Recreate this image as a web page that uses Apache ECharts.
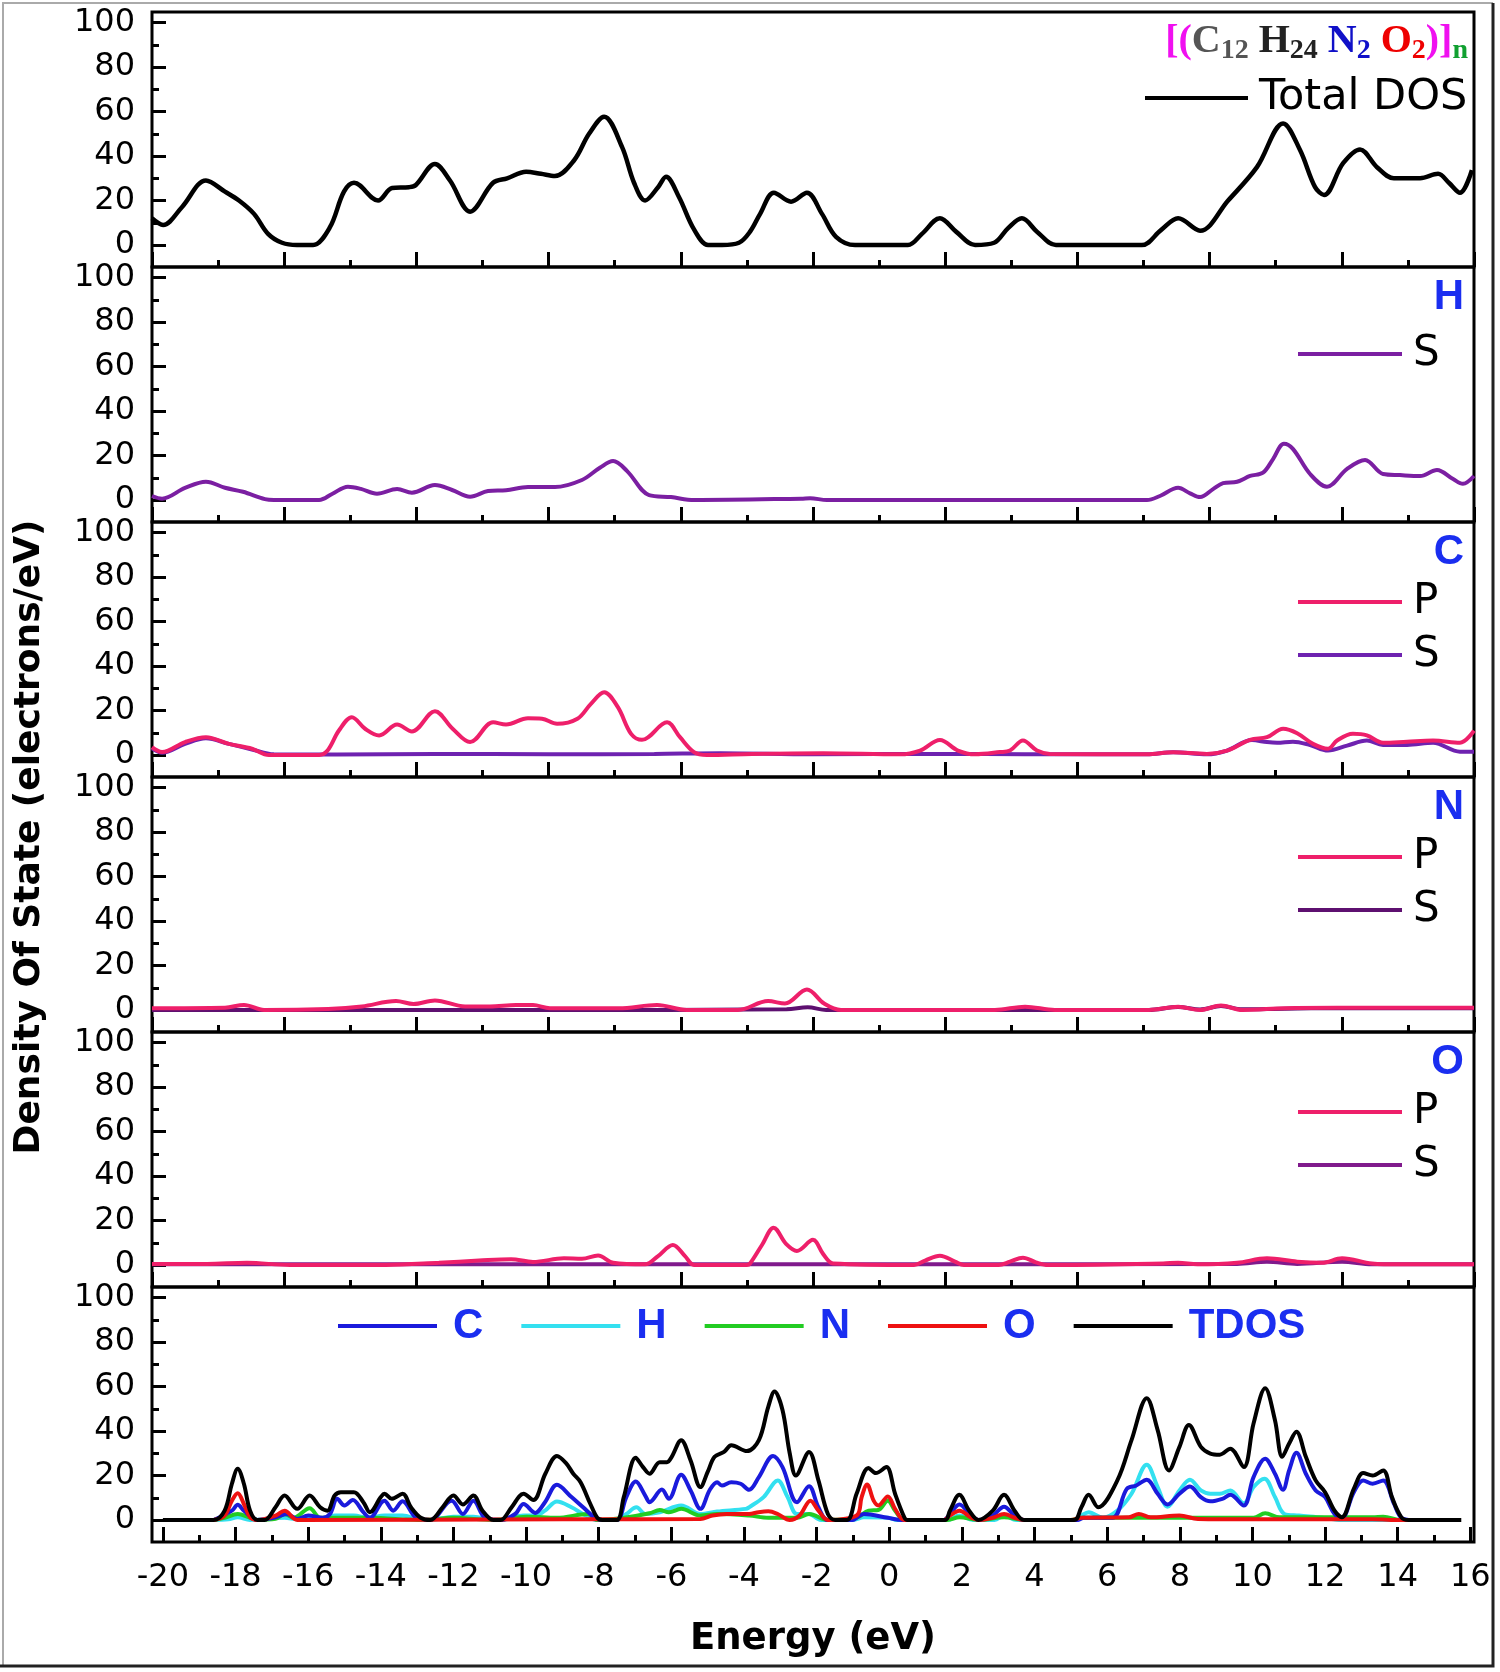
<!DOCTYPE html>
<html><head><meta charset="utf-8">
<script src="https://cdn.jsdelivr.net/npm/echarts@6/dist/echarts.min.js"></script>
<style>html,body{margin:0;padding:0;background:#fff}#c{width:1500px;height:1672px}</style>
</head><body><div id="c"></div>
<script>
// ---------- tick labels ----------
const yMajorTicks = [0, 20, 40, 60, 80, 100];
const yMinorTicks = [10, 30, 50, 70, 90];
const energyMajorTicks = [-20, -18, -16, -14, -12, -10, -8, -6, -4, -2, 0, 2, 4, 6, 8, 10, 12, 14, 16];
const energyMinorTicks = [-19, -17, -15, -13, -11, -9, -7, -5, -3, -1, 1, 3, 5, 7, 9, 11, 13, 15];

// ---------- upper panels (energy scale of the unlabeled upper axes) ----------
const totalDos = [[-25.0,12],[-24.58,9],[-23.87,17],[-22.96,29],[-22.24,24],[-21.71,20],[-21.14,14],[-20.61,5],[-20.08,1],[-19.52,0],[-18.91,0],[-18.27,8],[-17.74,24],[-17.36,28],[-16.45,20],[-15.92,25.6],[-15.28,26],[-15.02,27],[-14.30,36.4],[-13.73,29],[-12.97,15],[-12.10,28],[-11.57,30],[-10.85,33],[-10.29,32],[-9.76,31],[-9.04,38],[-8.47,50],[-7.90,57.7],[-7.22,44],[-6.77,28],[-6.35,20],[-5.86,26],[-5.56,30.7],[-5.07,21.6],[-4.50,7],[-3.97,0],[-3.44,0],[-2.80,1],[-2.38,6],[-2.00,14],[-1.48,23.5],[-0.83,19.5],[-0.23,23.5],[0.34,14],[0.87,3.7],[1.59,0],[3.59,0],[4.12,5],[4.80,12],[5.41,6],[6.13,0],[6.85,1],[7.37,7.5],[7.90,12],[8.47,6],[9.19,0],[12.44,0],[13.16,6.7],[13.81,12],[14.64,6.4],[15.70,20],[16.79,35],[17.78,54.7],[18.42,42.7],[18.99,26],[19.33,22.5],[20.05,36.8],[20.69,43],[21.33,35],[21.97,30],[22.96,30],[23.64,32],[24.05,28],[24.47,23.5],[24.92,33.7]];

const hS = [[-25.0,1.8],[-24.62,0.6],[-23.75,5.4],[-22.96,8.2],[-22.24,5.5],[-21.56,3.7],[-20.73,0.4],[-20.39,0],[-18.68,0],[-18.19,2.7],[-17.59,6],[-17.10,5],[-16.49,2.8],[-15.73,4.9],[-15.17,3.3],[-14.30,6.7],[-13.65,4.5],[-12.97,1.5],[-12.29,4],[-11.61,4.4],[-10.78,5.8],[-9.76,5.8],[-8.74,9],[-8.06,14.5],[-7.56,17.5],[-7.03,13],[-6.20,2.2],[-5.37,1.3],[-4.50,0],[-0.45,0.6],[-0.11,0.8],[0.53,0],[12.63,0],[13.12,1.8],[13.81,5.5],[14.26,3],[14.64,1.3],[15.13,4.9],[15.51,7.6],[16.04,8.2],[16.53,10.8],[17.02,12.3],[17.40,18.4],[17.81,25.3],[18.15,23],[18.80,11.7],[19.44,6],[20.20,14],[20.88,18],[21.56,11.7],[22.20,11.2],[22.96,10.8],[23.60,13.5],[24.21,9.4],[24.58,7.3],[25.0,10.8]];

const cP = [[-25.0,3.5],[-24.62,1.3],[-23.75,5.8],[-22.96,8],[-22.09,5],[-21.22,2.8],[-20.58,0],[-18.68,0],[-18.36,2],[-17.93,11],[-17.44,17],[-16.94,11.8],[-16.41,8.8],[-15.73,13.7],[-15.17,10.6],[-14.30,19.7],[-13.63,11.8],[-12.97,5.8],[-12.10,14.7],[-11.61,13.7],[-10.78,16.5],[-10.25,16.3],[-9.68,14],[-8.91,16.3],[-8.40,23],[-7.90,28.2],[-7.38,21.5],[-6.88,9.5],[-6.47,6.8],[-5.52,14.7],[-5.03,8],[-4.50,1.3],[-4.01,0],[-2.31,0.5],[0.38,0.8],[3.29,0.3],[4.05,2],[4.80,6.7],[5.48,2],[6.13,0.3],[7.07,1.3],[7.45,2],[7.94,6.5],[8.47,2],[8.96,0.5],[12.63,0.3],[13.62,1.2],[14.90,0.5],[15.66,2],[16.53,6.8],[17.17,8],[17.78,11.8],[18.31,9.8],[18.91,5],[19.48,2.8],[19.82,6.5],[20.42,9.5],[20.95,8.8],[21.56,5.5],[22.47,6],[23.45,6.5],[24.47,5.5],[25.0,11]];

const cS = [[-25.0,3],[-24.62,1],[-23.75,5],[-22.96,7.5],[-22.09,5],[-21.22,2.5],[-20.39,0.3],[-18.0,0.2],[-14.3,0.5],[-10.0,0.3],[-6.0,0.5],[-3.5,0.8],[0.0,0.3],[5.0,0.5],[8.0,0.3],[12.63,0.3],[13.62,1.2],[14.90,0.3],[15.66,2],[16.6,6.7],[17.17,5.8],[17.55,5.5],[18.15,6],[18.80,4.5],[19.48,2],[20.20,4.2],[20.95,6.5],[21.56,4.5],[22.47,4.5],[23.45,5.5],[24.47,1.5],[25.0,1.5]];

const nP = [[-25.0,0.8],[-22.24,1],[-21.52,2.3],[-20.76,0],[-18.34,0.5],[-17.06,1.6],[-15.77,4],[-15.11,2.7],[-14.30,4.3],[-13.16,1.6],[-12.22,1.6],[-11.23,2.2],[-10.59,2.2],[-9.95,0.8],[-7.34,0.8],[-5.90,2.2],[-4.77,0],[-2.84,0],[-1.70,4],[-1.06,2.9],[-0.23,9.2],[0.42,2.9],[1.06,0],[6.88,0],[8.02,1.5],[9.15,0],[12.71,0],[13.81,1.5],[14.64,0],[15.43,2],[16.23,0],[17.85,0.8],[19.82,1],[25.0,1]];

const nS = [[-25.0,0],[-10.0,0],[-1.0,0.3],[-0.2,1.2],[0.5,0],[12.7,0],[13.81,1.3],[14.64,0.2],[15.43,1.8],[16.23,0.3],[17.85,0.6],[19.82,0.8],[25.0,0.8]];

const oP = [[-25.0,0.5],[-22.92,0.5],[-21.41,1],[-19.78,0],[-16.15,0],[-14.15,1],[-12.63,2],[-11.42,2.6],[-10.59,1.4],[-9.42,3],[-8.74,2.8],[-8.13,4.3],[-7.56,1],[-6.35,0.3],[-5.86,4],[-5.30,9],[-4.84,4],[-4.50,0],[-2.50,0],[-2.38,0.7],[-1.93,9],[-1.49,16.8],[-1.02,9.5],[-0.61,6.3],[0.0,11.3],[0.38,5],[0.76,0.7],[3.82,0],[4.24,2],[4.80,4.2],[5.37,1.5],[5.71,0],[7.02,0],[7.45,1.5],[7.94,3.3],[8.43,1.2],[8.89,0],[13.24,0.7],[13.81,1],[14.54,0.3],[16.04,1],[17.17,3],[18.31,1.5],[19.25,1],[20.01,3],[21.14,0.7],[22.2,0.3],[25.0,0.3]];

const oS = [[-25.0,0.3],[-10.0,0.3],[0.0,0.3],[16.04,0.5],[17.17,1.5],[18.31,0.5],[20.01,1.5],[21.14,0.3],[25.0,0.3]];

// ---------- bottom panel (Energy, eV) ----------
const tdos = [[-20,0],[-18.6,0],[-18.3,4.2],[-18.1,16.3],[-17.94,23],[-17.77,16.3],[-17.6,4.2],[-17.4,0],[-17.2,0],[-16.9,5.7],[-16.65,11],[-16.3,5],[-15.96,11],[-15.67,5.7],[-15.47,4.2],[-15.27,11],[-15.1,12.5],[-14.74,12.5],[-14.48,8],[-14.3,3.5],[-14.0,10.3],[-13.9,11.8],[-13.7,9.5],[-13.4,11.8],[-13.17,5.7],[-12.9,1],[-12.64,0],[-12.3,5.7],[-12.0,11],[-11.74,7],[-11.45,11],[-11.2,4.2],[-10.9,0],[-10.7,0],[-10.4,5.7],[-10.07,11.8],[-9.8,9],[-9.47,20.8],[-9.15,28.8],[-8.9,25.6],[-8.7,20.8],[-8.5,17],[-8.23,7.2],[-8.04,1],[-7.9,0],[-7.5,0],[-7.31,10.3],[-6.98,28],[-6.78,23.8],[-6.6,20.8],[-6.32,26],[-6.12,26],[-5.99,28.4],[-5.73,35.9],[-5.47,26.8],[-5.2,14.8],[-5.0,21.6],[-4.81,28.4],[-4.55,30.6],[-4.35,33.6],[-3.92,31],[-3.59,35.9],[-3.33,51],[-3.16,57.8],[-2.94,49.5],[-2.74,29.9],[-2.57,20],[-2.21,30.6],[-1.95,17.8],[-1.69,2.7],[-1.49,0],[-1.16,0],[-0.9,11.8],[-0.57,23.4],[-0.37,21.1],[-0.08,23.8],[0.16,11.8],[0.42,1],[0.5,0],[1.54,0],[1.67,4.2],[1.93,11.3],[2.2,4.2],[2.46,0],[2.85,4.2],[3.16,11.3],[3.45,4.2],[3.71,0],[5.09,0],[5.29,5.7],[5.49,11.3],[5.75,5.7],[6.28,17.8],[6.67,35.9],[7.09,54.8],[7.39,40.4],[7.7,22.3],[7.99,32.9],[8.25,42.7],[8.58,32.9],[8.84,29.9],[9.1,29.4],[9.39,32.1],[9.76,23.8],[10.03,43.4],[10.35,59.3],[10.62,44.9],[10.82,28.4],[11.01,34.4],[11.21,39.7],[11.47,28.4],[11.74,17.8],[12.0,12.5],[12.26,4.2],[12.46,1.2],[12.79,14],[13.05,21.1],[13.31,20],[13.6,22.3],[13.84,10.3],[14.1,1.2],[14.3,0],[15.75,0]];

const pdosC = [[-18.6,0],[-18.1,4.2],[-17.94,6.8],[-17.77,4.2],[-17.4,0],[-16.9,1.2],[-16.59,2.7],[-16.3,0.5],[-16,2],[-15.6,1],[-15.4,2.7],[-15.2,9.5],[-15.0,6.5],[-14.77,9],[-14.48,3.5],[-14.3,1],[-13.9,8.7],[-13.66,4.2],[-13.4,8.4],[-13.03,1],[-12.64,0],[-12.05,8.7],[-11.74,2.7],[-11.45,8.7],[-11.13,1],[-10.7,0],[-10.3,2.7],[-10.07,7.2],[-9.75,3.2],[-9.48,8],[-9.15,15.8],[-8.75,10.3],[-8.43,5.7],[-8.1,1],[-7.9,0],[-7.5,0],[-7.24,10.3],[-6.98,17.3],[-6.72,11],[-6.6,8],[-6.26,13.7],[-6.07,9.5],[-5.73,20.4],[-5.47,13.3],[-5.2,5],[-4.94,13.6],[-4.74,17],[-4.61,15.5],[-4.35,17],[-4.09,16.3],[-3.86,13.6],[-3.59,19.3],[-3.2,28.8],[-2.94,23.8],[-2.54,8],[-2.21,15.2],[-1.95,5.7],[-1.69,0],[-1.0,0],[-0.9,1],[-0.7,2.7],[-0.04,1],[0.35,0],[1.5,0],[1.67,2.7],[1.93,7],[2.26,2],[2.46,0],[2.85,2],[3.16,6],[3.45,2],[3.71,0],[5.2,0],[5.35,1],[6.14,1],[6.54,14],[6.8,15.5],[7.09,18.1],[7.39,11.8],[7.66,7],[7.99,11.8],[8.28,15.1],[8.58,10.3],[8.84,8.4],[9.17,9.5],[9.39,11.3],[9.76,6.5],[10.03,19.3],[10.35,27.6],[10.62,20.8],[10.84,13.6],[11.01,22.3],[11.21,30.2],[11.47,20.8],[11.74,13.3],[12.0,10.3],[12.26,2.7],[12.46,1],[12.79,12.5],[13.05,17.8],[13.31,16.3],[13.6,17.8],[13.9,7.2],[14.1,1],[14.4,0]];

const pdosH = [[-18.6,0],[-18.2,0.3],[-17.94,1.2],[-17.6,0],[-16.65,1],[-16.3,0.3],[-15.93,1],[-15.6,0.5],[-15.27,2],[-14.74,2],[-14.35,1],[-13.9,2],[-13.4,2],[-12.9,0],[-12.64,0],[-12.0,1.5],[-11.45,1.5],[-10.9,0],[-10.7,0],[-10.07,2],[-9.75,2],[-9.48,4.2],[-9.15,8.3],[-8.75,5.7],[-8.36,2],[-8.04,0],[-7.5,0],[-7.24,2.7],[-6.96,5.7],[-6.72,2.7],[-6.32,3.5],[-5.73,6.5],[-5.2,2.7],[-4.74,3.8],[-3.95,5],[-3.86,5.7],[-3.46,10.3],[-3.07,17.8],[-2.8,10.3],[-2.54,2.7],[-2.21,2.7],[-1.88,0],[-1.0,0],[-0.7,1.2],[-0.04,1],[0.22,0],[1.6,0],[1.93,2],[2.3,0],[2.9,0],[3.16,2],[3.5,0],[5.1,0],[5.29,2],[5.49,3.5],[5.88,1],[6.28,4.2],[6.67,11.8],[7.09,24.9],[7.39,14.8],[7.66,6],[7.99,13.3],[8.28,18.1],[8.58,13.3],[8.84,11.8],[9.1,11.8],[9.39,13.3],[9.76,7.5],[10.03,14.8],[10.33,18.6],[10.62,10.3],[10.88,2.7],[11.28,2],[11.93,1],[12.46,0],[14.4,0]];

const pdosN = [[-18.6,0],[-18.3,1],[-17.94,2.7],[-17.6,1],[-17.4,0],[-16.9,0.5],[-16.65,2.7],[-16.4,1],[-15.96,5.3],[-15.67,1],[-15.27,1],[-14.3,1],[-12.9,0],[-12.0,1],[-10.9,0],[-9.98,1.5],[-9.15,1],[-8.3,2.7],[-8.04,0],[-7.3,1],[-6.6,3],[-6.32,4.5],[-6.07,3.5],[-5.73,5],[-5.2,2],[-4.74,2.7],[-3.86,2],[-3.33,1],[-2.54,1],[-2.21,2.7],[-1.69,0],[-0.9,1],[-0.57,4.2],[-0.3,4.5],[-0.04,8.7],[0.16,4.2],[0.42,0],[1.6,0],[1.93,1.2],[2.46,0],[3.16,1.2],[3.71,0],[5.0,0],[5.3,1],[10.03,1],[10.35,3],[10.75,1.2],[13.31,1.2],[13.6,1.5],[14.1,0],[14.4,0]];

const pdosO = [[-18.6,0],[-18.3,2],[-18.1,8.7],[-17.94,12],[-17.77,7.2],[-17.6,1.2],[-17.4,0],[-16.9,2],[-16.65,4.2],[-16.3,0],[-9,0.3],[-5.2,0.5],[-4.87,2],[-4.48,2.7],[-3.86,2.7],[-3.6,3.5],[-3.33,3.9],[-3.07,2.7],[-2.74,0],[-2.47,2],[-2.17,8.7],[-1.95,4.2],[-1.69,0],[-0.9,2],[-0.76,10.3],[-0.61,16],[-0.43,8.7],[-0.3,6.5],[-0.04,10.6],[0.16,5],[0.42,0],[1.5,0],[1.67,2],[1.93,4.2],[2.26,1],[2.46,0],[2.85,1],[3.16,2.7],[3.45,1],[3.71,0],[5.0,0],[5.3,1],[6.6,1.2],[6.87,2.7],[7.2,1.2],[7.99,2],[8.5,0.5],[10,0.3],[13.3,0.3],[14.1,0],[14.4,0]];

// ---------- layout / style ----------
const GL = 152, GW = 1322, PH = 255, TOP0 = 12;
const panelTop = i => TOP0 + PH * i;
const YMIN = -9.9, YMAX = 104.8;
const tickFont = {fontFamily: 'DejaVu Sans', fontSize: 32, color: '#000'};
const tickLine = {color: '#000', width: 3};
const BLUE = '#1a2ef0';
const colP = '#ee1f6a';

const grids = [], xAxes = [], yAxes = [], series = [];
for (let i = 0; i < 6; i++) {
  grids.push({left: GL, width: GW, top: panelTop(i), height: PH, show: true, borderColor: '#000', borderWidth: 3, backgroundColor: 'transparent'});
  yAxes.push({gridIndex: i, type: 'value', position: 'left', min: YMIN, max: YMAX,
    axisLine: {show: false, onZero: false},
    axisTick: {show: true, inside: true, length: 14, lineStyle: tickLine, customValues: yMajorTicks},
    axisLabel: Object.assign({show: true, margin: 17, customValues: yMajorTicks}, tickFont),
    splitLine: {show: false}});
  yAxes.push({gridIndex: i, type: 'value', position: 'left', min: YMIN, max: YMAX,
    axisLine: {show: false, onZero: false},
    axisTick: {show: true, inside: true, length: 7, lineStyle: tickLine, customValues: yMinorTicks},
    axisLabel: {show: false}, splitLine: {show: false}});
}
for (let i = 0; i < 5; i++) {
  xAxes.push({gridIndex: i, type: 'value', position: 'bottom', min: -25, max: 25, interval: 5,
    axisLine: {show: false, onZero: false},
    axisTick: {show: true, inside: true, length: 15, lineStyle: tickLine},
    minorTick: {show: true, splitNumber: 2, length: 7, lineStyle: tickLine},
    axisLabel: {show: false}, splitLine: {show: false}, minorSplitLine: {show: false}});
}
xAxes.push({gridIndex: 5, type: 'value', position: 'bottom', min: -20.3, max: 16.1,
  axisLine: {show: false, onZero: false},
  axisTick: {show: true, inside: true, length: 15, lineStyle: tickLine, customValues: energyMajorTicks},
  axisLabel: Object.assign({show: true, margin: 20, customValues: energyMajorTicks}, tickFont),
  splitLine: {show: false}});
xAxes.push({gridIndex: 5, type: 'value', position: 'bottom', min: -20.3, max: 16.1,
  axisLine: {show: false, onZero: false},
  axisTick: {show: true, inside: true, length: 7, lineStyle: tickLine, customValues: energyMinorTicks},
  axisLabel: {show: false}, splitLine: {show: false}});

function line(name, data, color, panel, width, z) {
  series.push({name, type: 'line', data, xAxisIndex: panel === 5 ? 5 : panel, yAxisIndex: panel * 2,
    symbol: 'none', showSymbol: false, smooth: 0.35, color,
    lineStyle: {color, width: width || 4}, z: z || 2});
}
line('Total DOS', totalDos, '#000', 0, 4.5);
line('H-S', hS, '#7b1fa2', 1);
line('C-S', cS, '#6e22b0', 2);
line('C-P', cP, colP, 2);
line('N-S', nS, '#5e1070', 3);
line('N-P', nP, colP, 3);
line('O-S', oS, '#801a8c', 4);
line('O-P', oP, colP, 4);
line('H', pdosH, '#33e0f0', 5);
line('N', pdosN, '#22cc22', 5);
line('C', pdosC, '#1a1adc', 5);
line('O', pdosO, '#ee1111', 5);
line('TDOS', tdos, '#000', 5, 4, 3);

const legendText = {fontFamily: 'DejaVu Sans', fontSize: 42, color: '#000', lineHeight: 44, padding: [0, 0, 0, 6]};
const fmt = n => n.indexOf('-') > 0 ? n.split('-')[1] : n;
function sideLegend(data, top) {
  return {data, left: 1298, top, orient: 'vertical', icon: 'rect', itemWidth: 104, itemHeight: 4,
    itemGap: 9, padding: 0, selectedMode: false, formatter: fmt, textStyle: legendText};
}
const legends = [
  {data: ['Total DOS'], left: 1145, top: 76, orient: 'vertical', icon: 'rect', itemWidth: 103, itemHeight: 4,
    padding: 0, selectedMode: false, textStyle: Object.assign({}, legendText, {fontSize: 43})},
  sideLegend(['H-S'], panelTop(1) + 65),
  sideLegend(['C-P', 'C-S'], panelTop(2) + 58),
  sideLegend(['N-P', 'N-S'], panelTop(3) + 58),
  sideLegend(['O-P', 'O-S'], panelTop(4) + 58),
  {data: ['C', 'H', 'N', 'O', 'TDOS'], left: 338, top: 1304, orient: 'horizontal', icon: 'rect',
    itemWidth: 99, itemHeight: 4, itemGap: 38, padding: 0, selectedMode: false,
    textStyle: {fontFamily: 'Liberation Sans', fontWeight: 'bold', fontSize: 42, color: BLUE, lineHeight: 44, padding: [0, 0, 0, 11]}}
];

const elementLabels = ['H', 'C', 'N', 'O'];
const graphics = [];
elementLabels.forEach((t, k) => {
  graphics.push({type: 'text', x: 1464, y: panelTop(k + 1) + 30, z: 10,
    style: {text: t, fill: BLUE, fontFamily: 'Liberation Sans', fontWeight: 'bold', fontSize: 42, align: 'right', verticalAlign: 'middle'}});
});
const serif = 'Liberation Serif';
const R = (c, s) => ({fill: c, color: c, fontFamily: serif, fontWeight: 'bold', fontSize: s ? 28 : 40, lineHeight: s ? 32 : 46, verticalAlign: s ? 'bottom' : 'middle'});
graphics.push({type: 'text', x: 1468, y: 42, z: 10,
  style: {text: '{m|[(}{c|C}{cs|12}{h| H}{hs|24}{n| N}{ns|2}{o| O}{os|2}{m|)]}{g|n}',
    align: 'right', verticalAlign: 'middle',
    rich: {m: R('#f010f0'), c: R('#555555'), cs: R('#555555', 1), h: R('#222222'), hs: R('#222222', 1),
      n: R('#1010c8'), ns: R('#1010c8', 1), o: R('#ee0000'), os: R('#ee0000', 1), g: R('#10a030', 1)}}});
graphics.push({type: 'text', x: 30, y: 837, rotation: Math.PI / 2, z: 10,
  style: {text: 'Density Of State (electrons/eV)', fill: '#000', fontFamily: 'DejaVu Sans', fontWeight: 'bold', fontSize: 36, align: 'center', verticalAlign: 'middle'}});
graphics.push({type: 'text', x: 813, y: 1639, z: 10,
  style: {text: 'Energy (eV)', fill: '#000', fontFamily: 'DejaVu Sans', fontWeight: 'bold', fontSize: 37, align: 'center', verticalAlign: 'middle'}});
graphics.push({type: 'polyline', z: 1, shape: {points: [[3, 1666], [3, 3], [1493, 3]]}, style: {stroke: '#aaaaaa', lineWidth: 2, fill: null}});
graphics.push({type: 'polyline', z: 1, shape: {points: [[1493, 3], [1493, 1666], [0, 1666]]}, style: {stroke: '#222222', lineWidth: 3, fill: null}});

const chart = echarts.init(document.getElementById('c'), null, {renderer: 'canvas'});
chart.setOption({
  backgroundColor: '#fff', animation: false,
  grid: grids, xAxis: xAxes, yAxis: yAxes, series, legend: legends, graphic: graphics
});
</script></body></html>
